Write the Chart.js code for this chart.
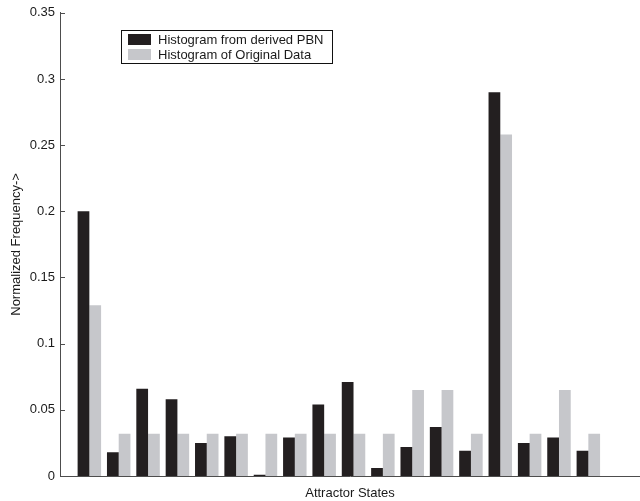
<!DOCTYPE html>
<html>
<head>
<meta charset="utf-8">
<script src="https://cdn.jsdelivr.net/npm/chart.js@4.4.1/dist/chart.umd.min.js"></script>
<style>
  html, body { margin: 0; padding: 0; background: #fff; overflow: hidden; }
  #wrap { width: 640px; height: 501px; }
</style>
</head>
<body>
<div id="wrap"><canvas id="histChart"></canvas></div>
<script>
// attractor state index (bars sit at 1..18 on an axis that starts at 0)
const states = [1, 2, 3, 4, 5, 6, 7, 8, 9, 10, 11, 12, 13, 14, 15, 16, 17, 18];

// histogram from derived PBN
const pbnFreq = [0.200, 0.018, 0.066, 0.058, 0.025, 0.030, 0.001, 0.029, 0.054,
                 0.071, 0.006, 0.022, 0.037, 0.019, 0.290, 0.025, 0.029, 0.019];

// histogram of original data (steps of 1/31)
const origFreq = [0.129, 0.032, 0.032, 0.032, 0.032, 0.032, 0.032, 0.032, 0.032,
                  0.032, 0.032, 0.065, 0.065, 0.032, 0.258, 0.032, 0.065, 0.032];

const seriesNames = ['Histogram from derived PBN', 'Histogram of Original Data'];
const yTicks = [0, 0.05, 0.1, 0.15, 0.2, 0.25, 0.3, 0.35];

const FONT = '"Liberation Sans", Arial, sans-serif';
const AXIS_COLOR = '#4d4d4d';

function toPoints(values) {
    return values.map((v, i) => ({ x: states[i], y: v }));
}

// short tick marks pointing into the plot, like the original figure
const inwardTicks = {
    id: 'inwardTicks',
    afterDraw(chart) {
        const ctx = chart.ctx;
        const y = chart.scales.y;
        const left = chart.chartArea.left;
        ctx.save();
        ctx.strokeStyle = AXIS_COLOR;
        ctx.lineWidth = 1;
        yTicks.forEach(t => {
            const py = Math.round(y.getPixelForValue(t)) + 0.5;
            ctx.beginPath();
            ctx.moveTo(left, py);
            ctx.lineTo(left + 5, py);
            ctx.stroke();
        });
        ctx.restore();
    }
};

// boxed legend inside the plot, top left
const boxLegend = {
    id: 'boxLegend',
    afterDraw(chart) {
        const ctx = chart.ctx;
        const x0 = 121, y0 = 30, w = 211, h = 33;
        ctx.save();
        ctx.fillStyle = '#fff';
        ctx.fillRect(x0, y0, w, h);
        ctx.strokeStyle = '#111';
        ctx.lineWidth = 1;
        ctx.strokeRect(x0 + 0.5, y0 + 0.5, w, h);
        ctx.font = '13px ' + FONT;
        ctx.textBaseline = 'middle';
        chart.data.datasets.forEach((ds, i) => {
            const cy = y0 + 9 + i * 15;
            ctx.fillStyle = ds.backgroundColor;
            ctx.fillRect(x0 + 7, cy - 5, 23, 11);
            ctx.fillStyle = '#1a1a1a';
            ctx.fillText(ds.label, x0 + 37, cy + 1);
        });
        ctx.restore();
    }
};

const ctx = document.getElementById('histChart').getContext('2d');
const chart = new Chart(ctx, {
    type: 'bar',
    data: {
        datasets: [
            {
                label: seriesNames[0],
                data: toPoints(pbnFreq),
                backgroundColor: '#231f20',
                categoryPercentage: 0.8,
                barPercentage: 1.0
            },
            {
                label: seriesNames[1],
                data: toPoints(origFreq),
                backgroundColor: '#c6c7cb',
                categoryPercentage: 0.8,
                barPercentage: 1.0
            }
        ]
    },
    options: {
        responsive: true,
        maintainAspectRatio: false,
        animation: false,
        layout: {
            padding: { top: 10, right: 0, left: 0, bottom: 0 }
        },
        plugins: {
            legend: { display: false },
            tooltip: { enabled: false }
        },
        scales: {
            x: {
                type: 'linear',
                offset: false,
                min: 0,
                max: 19.76,
                grid: { display: false, drawTicks: false, tickLength: 0 },
                border: { display: true, color: AXIS_COLOR, width: 1 },
                ticks: { display: false },
                title: {
                    display: true,
                    text: 'Attractor States',
                    color: '#1a1a1a',
                    font: { family: FONT, size: 13 },
                    padding: { top: 3, bottom: 0 }
                },
                afterFit(scale) {
                    scale.height = 25;
                }
            },
            y: {
                min: 0,
                max: 0.35,
                grid: { display: false, drawTicks: false, tickLength: 0 },
                border: { display: true, color: AXIS_COLOR, width: 1 },
                afterBuildTicks(scale) {
                    scale.ticks = yTicks.map(v => ({ value: v }));
                },
                ticks: {
                    color: '#1a1a1a',
                    padding: 5,
                    font: { family: FONT, size: 13 },
                    callback: v => String(+v.toFixed(2))
                },
                title: {
                    display: true,
                    text: 'Normalized Frequency->',
                    color: '#1a1a1a',
                    font: { family: FONT, size: 13 },
                    padding: { top: 9, bottom: 2 }
                },
                afterFit(scale) {
                    scale.width = 60;
                }
            }
        }
    },
    plugins: [inwardTicks, boxLegend]
});
</script>
</body>
</html>
